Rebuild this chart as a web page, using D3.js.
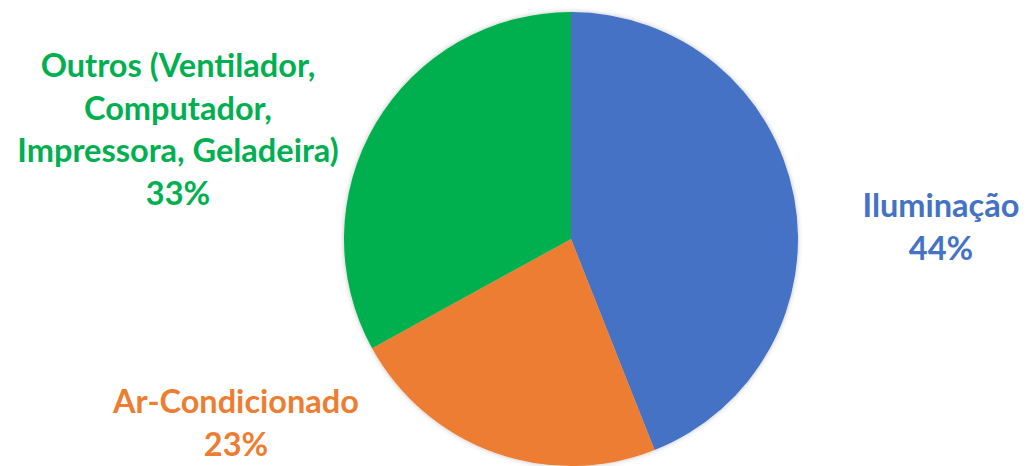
<!DOCTYPE html>
<html>
<head>
<meta charset="utf-8">
<script src="https://cdn.jsdelivr.net/npm/d3@7"></script>
<style>
  html, body { margin: 0; padding: 0; background: #fff; }
  svg { display: block; }
  .lbl { font-family: Lato, "Open Sans", sans-serif; font-weight: 700; font-size: 32.5px; }
</style>
</head>
<body>
<svg id="chart" width="1034" height="466"></svg>
<script>
// Energy consumption share by usage
const categories = ["Iluminação", "Ar-Condicionado", "Outros (Ventilador, Computador, Impressora, Geladeira)"];
const values = [44, 23, 33];
const colors = ["#4472C4", "#ED7D31", "#00B050"];
// label lines for each slice (category text split across lines, then percentage)
const labelLines = [
  ["Iluminação"],
  ["Ar-Condicionado"],
  ["Outros (Ventilador,", "Computador,", "Impressora, Geladeira)"]
];
const labelAnchors = [[941, 217], [236, 413], [178, 77]];

const width = 1034, height = 466;
const cx = 571, cy = 239, radius = 227;

const svg = d3.select("#chart");

const defs = svg.append("defs");
const f = defs.append("filter").attr("id", "soft").attr("x", "-10%").attr("y", "-10%").attr("width", "120%").attr("height", "120%");
f.append("feDropShadow").attr("dx", 0).attr("dy", 0).attr("stdDeviation", 2.5)
  .attr("flood-color", "#000").attr("flood-opacity", 0.25);

const data = categories.map((c, i) => ({ name: c, value: values[i], color: colors[i] }));

const pie = d3.pie().value(d => d.value).sort(null);
const arc = d3.arc().innerRadius(0).outerRadius(radius);

const g = svg.append("g").attr("transform", `translate(${cx},${cy})`).attr("filter", "url(#soft)");
g.selectAll("path")
  .data(pie(data))
  .join("path")
  .attr("d", arc)
  .attr("fill", d => d.data.color);

const lineH = 42.5;
const fmt = d3.format(".0%");
data.forEach((d, i) => {
  const [x, y] = labelAnchors[i];
  const lines = labelLines[i].concat([fmt(d.value / 100)]);
  const t = svg.append("text").attr("class", "lbl").attr("fill", d.color)
    .attr("text-anchor", "middle");
  lines.forEach((ln, j) => {
    t.append("tspan").attr("x", x).attr("y", y + j * lineH).text(ln);
  });
});
</script>
</body>
</html>
